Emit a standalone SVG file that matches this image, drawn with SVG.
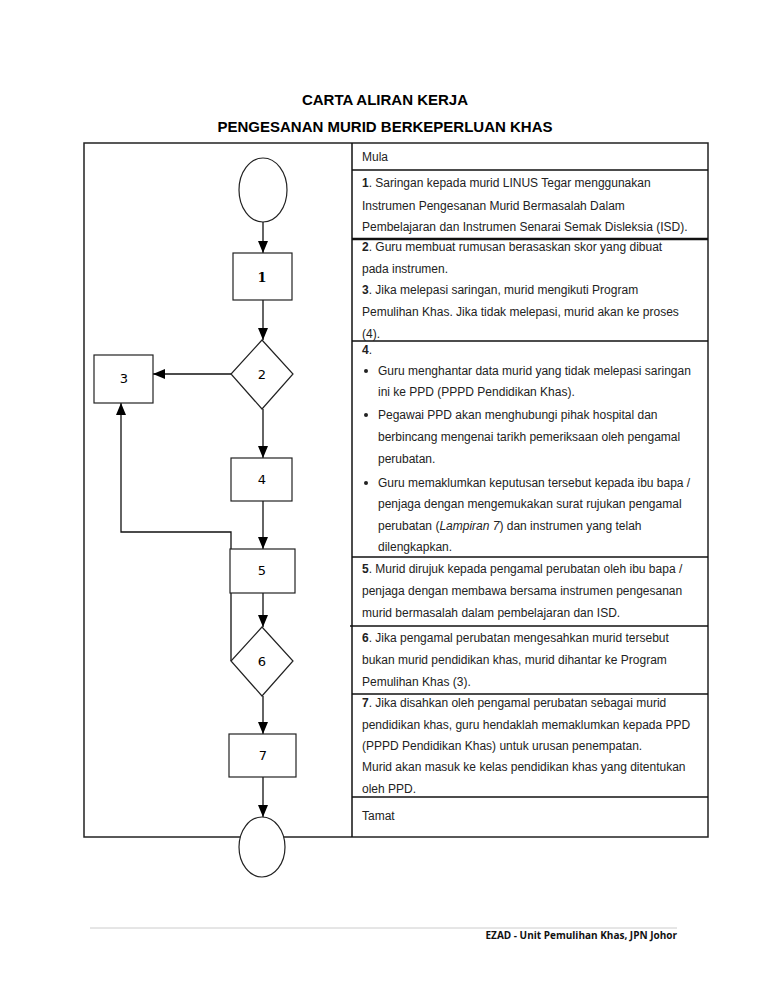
<svg xmlns="http://www.w3.org/2000/svg" width="768" height="994" viewBox="0 0 768 994">
<style>
.t{font-family:"Liberation Sans",Arial,sans-serif;font-size:12px;fill:#222}
.b{font-weight:bold}
.ttl{font-family:"Liberation Sans",Arial,sans-serif;font-size:15px;font-weight:bold;fill:#000;text-anchor:middle}
.n{font-family:"DejaVu Sans",sans-serif;font-size:13px;fill:#000;text-anchor:middle}
.shape{fill:#fff;stroke:#222;stroke-width:1.2}
.frame{fill:none;stroke:#222;stroke-width:1.5}
.sep{stroke:#111;stroke-width:1.5}
.con{stroke:#111;stroke-width:1.3;fill:none}
</style>
<defs>
<marker id="ah" viewBox="0 0 12 10" refX="12" refY="5" markerWidth="12" markerHeight="10" markerUnits="userSpaceOnUse" orient="auto"><path d="M0,0 L12,5 L0,10 z" fill="#000"/></marker>
</defs>
<rect width="768" height="994" fill="#fff"/>
<text class="ttl" x="385" y="105">CARTA ALIRAN KERJA</text>
<text class="ttl" x="385" y="132">PENGESANAN MURID BERKEPERLUAN KHAS</text>

<g id="frame">
<rect class="frame" x="84" y="143" width="624" height="694"/>
<line class="sep" x1="352" y1="143" x2="352" y2="837"/>
<line class="sep" x1="352" y1="170" x2="708" y2="170"/>
<line x1="352" y1="239" x2="708" y2="239" stroke="#111" stroke-width="2.5"/>
<line class="sep" x1="352" y1="341" x2="708" y2="341"/>
<line class="sep" x1="352" y1="557" x2="708" y2="557"/>
<line class="sep" x1="350" y1="626" x2="708" y2="626"/>
<line class="sep" x1="352" y1="694" x2="708" y2="694"/>
<line class="sep" x1="352" y1="797" x2="708" y2="797"/>
</g>

<g id="texts">
<text class="t" x="362" y="161">Mula</text>
<text class="t" x="362" y="187"><tspan class="b">1</tspan>. Saringan kepada murid LINUS Tegar menggunakan</text>
<text class="t" x="362" y="210">Instrumen Pengesanan Murid Bermasalah Dalam</text>
<text class="t" x="362" y="231">Pembelajaran dan Instrumen Senarai Semak Disleksia (ISD).</text>
<text class="t" x="362" y="251"><tspan class="b">2</tspan>. Guru membuat rumusan berasaskan skor yang dibuat</text>
<text class="t" x="362" y="273">pada instrumen.</text>
<text class="t" x="362" y="294"><tspan class="b">3</tspan>. Jika melepasi saringan, murid mengikuti Program</text>
<text class="t" x="362" y="316">Pemulihan Khas. Jika tidak melepasi, murid akan ke proses</text>
<text class="t" x="362" y="338">(4).</text>
<text class="t" x="362" y="354"><tspan class="b">4</tspan>.</text>
<circle cx="366" cy="371" r="2" fill="#222"/>
<text class="t" x="378" y="375">Guru menghantar data murid yang tidak melepasi saringan</text>
<text class="t" x="378" y="396">ini ke PPD (PPPD Pendidikan Khas).</text>
<circle cx="366" cy="415" r="2" fill="#222"/>
<text class="t" x="378" y="419">Pegawai PPD akan menghubungi pihak hospital dan</text>
<text class="t" x="378" y="441">berbincang mengenai tarikh pemeriksaan oleh pengamal</text>
<text class="t" x="378" y="463">perubatan.</text>
<circle cx="366" cy="483" r="2" fill="#222"/>
<text class="t" x="378" y="487">Guru memaklumkan keputusan tersebut kepada ibu bapa /</text>
<text class="t" x="378" y="508">penjaga dengan mengemukakan surat rujukan pengamal</text>
<text class="t" x="378" y="530">perubatan (<tspan font-style="italic">Lampiran 7</tspan>) dan instrumen yang telah</text>
<text class="t" x="378" y="551">dilengkapkan.</text>
<text class="t" x="362" y="573"><tspan class="b">5</tspan>. Murid dirujuk kepada pengamal perubatan oleh ibu bapa /</text>
<text class="t" x="362" y="595">penjaga dengan membawa bersama instrumen pengesanan</text>
<text class="t" x="362" y="617">murid bermasalah dalam pembelajaran dan ISD.</text>
<text class="t" x="362" y="642"><tspan class="b">6</tspan>. Jika pengamal perubatan mengesahkan murid tersebut</text>
<text class="t" x="362" y="664">bukan murid pendidikan khas, murid dihantar ke Program</text>
<text class="t" x="362" y="686">Pemulihan Khas (3).</text>
<text class="t" x="362" y="707"><tspan class="b">7</tspan>. Jika disahkan oleh pengamal perubatan sebagai murid</text>
<text class="t" x="362" y="729">pendidikan khas, guru hendaklah memaklumkan kepada PPD</text>
<text class="t" x="362" y="750">(PPPD Pendidikan Khas) untuk urusan penempatan.</text>
<text class="t" x="362" y="771">Murid akan masuk ke kelas pendidikan khas yang ditentukan</text>
<text class="t" x="362" y="793">oleh PPD.</text>
<text class="t" x="362" y="820">Tamat</text>
</g>

<g id="connectors">
<line class="con" x1="263" y1="222" x2="263" y2="253" marker-end="url(#ah)"/>
<line class="con" x1="263" y1="300" x2="263" y2="340" marker-end="url(#ah)"/>
<line class="con" x1="231" y1="374" x2="153" y2="374" marker-end="url(#ah)"/>
<line class="con" x1="263" y1="409" x2="263" y2="458" marker-end="url(#ah)"/>
<line class="con" x1="263" y1="501" x2="263" y2="549" marker-end="url(#ah)"/>
<line class="con" x1="263" y1="593" x2="263" y2="627" marker-end="url(#ah)"/>
<polyline class="con" points="231,661 231,532 121,532 121,403" stroke="#444" marker-end="url(#ah)"/>
<line class="con" x1="263" y1="696" x2="263" y2="734" marker-end="url(#ah)"/>
<line class="con" x1="263" y1="777" x2="263" y2="817" marker-end="url(#ah)"/>
</g>

<g id="start"><ellipse class="shape" cx="263" cy="190" rx="24" ry="32"/></g>
<g id="n1"><rect class="shape" x="233" y="253" width="59" height="47"/><text x="262" y="282" font-family="'DejaVu Serif',serif" font-size="13" font-weight="bold" text-anchor="middle">1</text></g>
<g id="n2"><polygon class="shape" points="262,340 293,374 262,409 231,374"/><text class="n" x="262" y="379">2</text></g>
<g id="n3"><rect class="shape" x="94" y="355" width="59" height="48"/><text class="n" x="124" y="383">3</text></g>
<g id="n4"><rect class="shape" x="231" y="458" width="61" height="43"/><text class="n" x="262" y="484">4</text></g>
<g id="n5"><rect class="shape" x="230" y="549" width="65" height="44"/><text class="n" x="262" y="575">5</text></g>
<g id="n6"><polygon class="shape" points="262,627 293,661 262,696 231,661"/><text class="n" x="262" y="666">6</text></g>
<g id="n7"><rect class="shape" x="229" y="734" width="67" height="43"/><text class="n" x="263" y="760">7</text></g>
<g id="end"><ellipse class="shape" cx="262" cy="847" rx="23" ry="30"/></g>

<g id="footer">
<line x1="90" y1="928" x2="677" y2="928" stroke="#ccc" stroke-width="1"/>
<text x="677" y="939" font-family="'Open Sans','Liberation Sans',sans-serif" font-size="10" font-weight="bold" text-anchor="end" fill="#111">EZAD - Unit Pemulihan Khas, JPN Johor</text>
</g>
</svg>
